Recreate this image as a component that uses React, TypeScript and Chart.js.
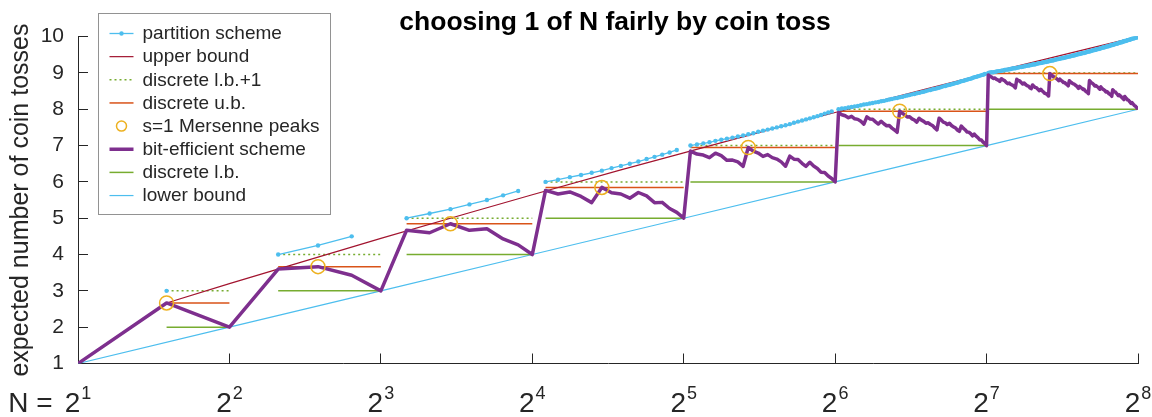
import { useEffect, useRef } from "react";
import { Chart, registerables } from "chart.js";

Chart.register(...registerables);

const FONT = '"Liberation Sans", Arial, Helvetica, sans-serif';
const INK = "#262626";

const chartTitle = "choosing 1 of N fairly by coin toss";
const yAxisTitle = "expected number of coin tosses";
const xTickBase = "2";
const xTickExponents = [1, 2, 3, 4, 5, 6, 7, 8];

// First and last N of each octave 2^k < N <= 2^(k+1)
const octaveStartN = [3, 5, 9, 17, 33, 65, 129];
const octaveEndN = [4, 8, 16, 32, 64, 128, 256];

// Bit-efficient scheme: expected tosses for every N, N = 2 .. 256
const bitEfficientOctave0 = [1];
const bitEfficientOctave1 = [2.667, 2];
const bitEfficientOctave2 = [3.6, 3.667, 3.429, 3];
const bitEfficientOctave3 = [4.667, 4.6, 4.848, 4.667, 4.708, 4.429, 4.267, 4];
const bitEfficientOctave4 = [
  5.765, 5.667, 5.723, 5.6, 5.429, 5.848, 5.702, 5.667,
  5.551, 5.708, 5.614, 5.429, 5.436, 5.267, 5.161, 5,
];
const bitEfficientOctave5 = [
  6.848, 6.765, 6.738, 6.667, 6.79, 6.723, 6.593, 6.6,
  6.55, 6.429, 6.946, 6.848, 6.794, 6.702, 6.751, 6.667,
  6.628, 6.551, 6.431, 6.708, 6.626, 6.614, 6.512, 6.429,
  6.538, 6.436, 6.37, 6.267, 6.259, 6.161, 6.095, 6,
];
const bitEfficientOctave6 = [
  7.908, 7.848, 7.82, 7.765, 7.806, 7.738, 7.721, 7.667,
  7.589, 7.79, 7.734, 7.723, 7.652, 7.593, 7.669, 7.6,
  7.547, 7.55, 7.48, 7.429, 7.365, 7.946, 7.887, 7.848,
  7.788, 7.794, 7.736, 7.702, 7.646, 7.751, 7.699, 7.667,
  7.615, 7.628, 7.58, 7.551, 7.483, 7.431, 7.753, 7.708,
  7.644, 7.626, 7.578, 7.614, 7.553, 7.512, 7.489, 7.429,
  7.392, 7.538, 7.481, 7.436, 7.374, 7.37, 7.327, 7.267,
  7.317, 7.259, 7.219, 7.161, 7.151, 7.095, 7.055, 7,
];
const bitEfficientOctave7 = [
  8.946, 8.908, 8.885, 8.848, 8.859, 8.82, 8.801, 8.765,
  8.84, 8.806, 8.787, 8.738, 8.705, 8.721, 8.683, 8.667,
  8.636, 8.589, 8.825, 8.79, 8.778, 8.734, 8.696, 8.723,
  8.681, 8.652, 8.638, 8.593, 8.567, 8.669, 8.626, 8.6,
  8.586, 8.547, 8.514, 8.55, 8.509, 8.48, 8.44, 8.429,
  8.406, 8.365, 8.982, 8.946, 8.924, 8.887, 8.885, 8.848,
  8.823, 8.788, 8.829, 8.794, 8.771, 8.736, 8.736, 8.702,
  8.68, 8.646, 8.785, 8.751, 8.73, 8.699, 8.698, 8.667,
  8.646, 8.615, 8.574, 8.628, 8.597, 8.58, 8.545, 8.551,
  8.511, 8.483, 8.465, 8.431, 8.79, 8.753, 8.726, 8.708,
  8.681, 8.644, 8.656, 8.626, 8.613, 8.578, 8.551, 8.614,
  8.577, 8.553, 8.536, 8.512, 8.476, 8.489, 8.464, 8.429,
  8.415, 8.392, 8.356, 8.538, 8.504, 8.481, 8.469, 8.436,
  8.408, 8.374, 8.396, 8.37, 8.336, 8.327, 8.293, 8.267,
  8.35, 8.317, 8.292, 8.259, 8.252, 8.219, 8.194, 8.161,
  8.183, 8.151, 8.127, 8.095, 8.087, 8.055, 8.031, 8,
];

// Partition scheme: N = 2^k + 1 .. 2^(k+1) - 1 in each octave
const partitionOctave1 = [3];
const partitionOctave2 = [4, 4.25, 4.5];
const partitionOctave3 = [5, 5.13, 5.25, 5.38, 5.5, 5.63, 5.75];
const partitionOctave4 = [
  6, 6.06, 6.13, 6.19, 6.25, 6.31, 6.38, 6.44, 6.5, 6.56, 6.63, 6.69, 6.75, 6.81, 6.88,
];
const partitionOctave5 = [
  7, 7.03, 7.06, 7.09, 7.13, 7.16, 7.19, 7.22, 7.25, 7.28, 7.31, 7.34, 7.38, 7.41, 7.44, 7.47,
  7.5, 7.53, 7.56, 7.59, 7.63, 7.66, 7.69, 7.72, 7.75, 7.78, 7.81, 7.84, 7.88, 7.91, 7.94,
];
const partitionOctave6 = [
  8, 8.02, 8.03, 8.05, 8.06, 8.08, 8.09, 8.11, 8.13, 8.14, 8.16, 8.17, 8.19, 8.2, 8.22, 8.23,
  8.25, 8.27, 8.28, 8.3, 8.31, 8.33, 8.34, 8.36, 8.38, 8.39, 8.41, 8.42, 8.44, 8.45, 8.47, 8.48,
  8.5, 8.52, 8.53, 8.55, 8.56, 8.58, 8.59, 8.61, 8.63, 8.64, 8.66, 8.67, 8.69, 8.7, 8.72, 8.73,
  8.75, 8.77, 8.78, 8.8, 8.81, 8.83, 8.84, 8.86, 8.88, 8.89, 8.91, 8.92, 8.94, 8.95, 8.97,
];
const partitionOctave7 = [
  9, 9.01, 9.02, 9.02, 9.03, 9.04, 9.05, 9.05, 9.06, 9.07, 9.08, 9.09, 9.09, 9.1, 9.11, 9.12,
  9.13, 9.13, 9.14, 9.15, 9.16, 9.16, 9.17, 9.18, 9.19, 9.2, 9.2, 9.21, 9.22, 9.23, 9.23, 9.24,
  9.25, 9.26, 9.27, 9.27, 9.28, 9.29, 9.3, 9.3, 9.31, 9.32, 9.33, 9.34, 9.34, 9.35, 9.36, 9.37,
  9.38, 9.38, 9.39, 9.4, 9.41, 9.41, 9.42, 9.43, 9.44, 9.45, 9.45, 9.46, 9.47, 9.48, 9.48, 9.49,
  9.5, 9.51, 9.52, 9.52, 9.53, 9.54, 9.55, 9.55, 9.56, 9.57, 9.58, 9.59, 9.59, 9.6, 9.61, 9.62,
  9.63, 9.63, 9.64, 9.65, 9.66, 9.66, 9.67, 9.68, 9.69, 9.7, 9.7, 9.71, 9.72, 9.73, 9.73, 9.74,
  9.75, 9.76, 9.77, 9.77, 9.78, 9.79, 9.8, 9.8, 9.81, 9.82, 9.83, 9.84, 9.84, 9.85, 9.86, 9.87,
  9.88, 9.88, 9.89, 9.9, 9.91, 9.91, 9.92, 9.93, 9.94, 9.95, 9.95, 9.96, 9.97, 9.98, 9.98,
];

// Smooth bounds
const upperBoundN = [3, 4, 6, 8, 12, 16, 24, 32, 48, 64, 96, 128, 192, 256];
const upperBoundTosses = [2.667, 3.2, 3.93, 4.445, 5.15, 5.645, 6.33, 6.8, 7.46, 7.91, 8.54, 8.98, 9.58, 10];
const lowerBoundN = [2, 4, 8, 16, 32, 64, 128, 256];
const lowerBoundTosses = [1, 2, 3, 4, 5, 6, 7, 8];

// Per-octave discrete levels
const discreteLowerBound = [2, 3, 4, 5, 6, 7, 8];
const discreteLowerBoundPlus1 = [3, 4, 5, 6, 7, 8, 9];
const discreteUpperBound = [2.667, 3.667, 4.848, 5.848, 6.946, 7.946, 8.982];

// s=1 Mersenne peaks
const peakN = [3, 6, 11, 22, 43, 86, 171];
const peakTosses = [2.667, 3.667, 4.848, 5.848, 6.946, 7.946, 8.982];

type Pt = { x: number; y: number | null };

const bitEfficientTosses = [
  ...bitEfficientOctave0,
  ...bitEfficientOctave1,
  ...bitEfficientOctave2,
  ...bitEfficientOctave3,
  ...bitEfficientOctave4,
  ...bitEfficientOctave5,
  ...bitEfficientOctave6,
  ...bitEfficientOctave7,
];
const partitionOctaves = [
  partitionOctave1,
  partitionOctave2,
  partitionOctave3,
  partitionOctave4,
  partitionOctave5,
  partitionOctave6,
  partitionOctave7,
];

const zip = (xs: number[], ys: number[]): Pt[] => xs.map((x, i) => ({ x, y: ys[i] }));

const octaveSegments = (levels: number[]): Pt[] =>
  levels.flatMap((y, k) => [
    { x: octaveStartN[k], y },
    { x: octaveEndN[k], y },
    { x: octaveEndN[k], y: null },
  ]);

const partitionPoints: Pt[] = partitionOctaves.flatMap((vals, k) => [
  ...vals.map((y, i) => ({ x: octaveStartN[k] + i, y })),
  { x: octaveEndN[k], y: null },
]);

const bitEfficientPoints: Pt[] = bitEfficientTosses.map((y, i) => ({ x: i + 2, y }));

const COLORS = {
  partition: "#4DBEEE",
  upper: "#A2142F",
  green: "#77AC30",
  orange: "#D95319",
  yellow: "#EDB120",
  purple: "#7E2F8E",
  lower: "#4DBEEE",
};

const lineBase = { pointRadius: 0, tension: 0, fill: false };

const datasets: any[] = [
  {
    ...lineBase,
    label: "partition scheme",
    data: partitionPoints,
    borderColor: COLORS.partition,
    borderWidth: 1.3,
    pointRadius: 2.2,
    pointBackgroundColor: COLORS.partition,
    pointBorderWidth: 0,
    order: 3,
  },
  {
    ...lineBase,
    label: "upper bound",
    data: zip(upperBoundN, upperBoundTosses),
    borderColor: COLORS.upper,
    borderWidth: 1.2,
    order: 4,
  },
  {
    ...lineBase,
    label: "discrete l.b.+1",
    data: octaveSegments(discreteLowerBoundPlus1),
    borderColor: COLORS.green,
    borderWidth: 1.5,
    borderDash: [2, 3],
    order: 6,
  },
  {
    ...lineBase,
    label: "discrete u.b.",
    data: octaveSegments(discreteUpperBound),
    borderColor: COLORS.orange,
    borderWidth: 1.5,
    order: 5,
  },
  {
    label: "s=1 Mersenne peaks",
    data: zip(peakN, peakTosses),
    showLine: false,
    pointRadius: 7,
    pointBorderWidth: 1.5,
    pointBorderColor: COLORS.yellow,
    pointBackgroundColor: "rgba(0,0,0,0)",
    borderColor: COLORS.yellow,
    order: 1,
  },
  {
    ...lineBase,
    label: "bit-efficient scheme",
    data: bitEfficientPoints,
    borderColor: COLORS.purple,
    borderWidth: 3.5,
    borderJoinStyle: "round",
    order: 2,
  },
  {
    ...lineBase,
    label: "discrete l.b.",
    data: octaveSegments(discreteLowerBound),
    borderColor: COLORS.green,
    borderWidth: 1.5,
    order: 7,
  },
  {
    ...lineBase,
    label: "lower bound",
    data: zip(lowerBoundN, lowerBoundTosses),
    borderColor: COLORS.lower,
    borderWidth: 1.2,
    order: 8,
  },
];

// Legend drawn as a framed box inside the plot
const legendBoxPlugin = {
  id: "legendBox",
  afterDraw(chart: any) {
    const { ctx } = chart;
    const left = 98;
    const top = 13.5;
    const width = 232;
    const height = 201;
    ctx.save();
    ctx.fillStyle = "#ffffff";
    ctx.fillRect(left, top, width, height);
    ctx.strokeStyle = "#929292";
    ctx.lineWidth = 1;
    ctx.strokeRect(left + 0.5, top, width, height);
    const rowStep = 23.15;
    const x0 = 109.5;
    const x1 = 133.5;
    const cx = 121.5;
    chart.data.datasets.forEach((ds: any, i: number) => {
      const cy = 33.5 + i * rowStep;
      if (ds.showLine !== false) {
        ctx.beginPath();
        ctx.setLineDash(ds.borderDash || []);
        ctx.lineWidth = ds.borderWidth;
        ctx.strokeStyle = ds.borderColor;
        ctx.moveTo(x0, cy);
        ctx.lineTo(x1, cy);
        ctx.stroke();
        ctx.setLineDash([]);
        if (ds.pointRadius > 0) {
          ctx.beginPath();
          ctx.arc(cx, cy, ds.pointRadius, 0, Math.PI * 2);
          ctx.fillStyle = ds.pointBackgroundColor;
          ctx.fill();
        }
      } else {
        ctx.beginPath();
        ctx.arc(cx, cy, 5, 0, Math.PI * 2);
        ctx.lineWidth = ds.pointBorderWidth;
        ctx.strokeStyle = ds.pointBorderColor;
        ctx.stroke();
      }
      ctx.fillStyle = INK;
      ctx.font = `19px ${FONT}`;
      ctx.textAlign = "left";
      ctx.textBaseline = "middle";
      ctx.fillText(ds.label, 142.5, cy + 0.5);
    });
    ctx.restore();
  },
};

// Power-of-two tick labels, the "N =" prefix and the chart title
const powerLabelsPlugin = {
  id: "powerLabels",
  afterDraw(chart: any) {
    const { ctx, chartArea } = chart;
    const xScale = chart.scales.x;
    const baseY = 411.5;
    ctx.save();
    ctx.fillStyle = INK;
    ctx.textBaseline = "alphabetic";
    xTickExponents.forEach((exp, i) => {
      const px = xScale.getPixelForValue(2 ** exp);
      const expText = String(exp);
      ctx.font = `28px ${FONT}`;
      const baseW = ctx.measureText(xTickBase).width;
      ctx.font = `18px ${FONT}`;
      const expW = ctx.measureText(expText).width;
      const left = px - (baseW + 1 + expW) / 2;
      ctx.font = `28px ${FONT}`;
      ctx.textAlign = "left";
      ctx.fillText(xTickBase, left, baseY);
      if (i === 0) {
        ctx.textAlign = "right";
        ctx.fillText("N =", left - 12, baseY);
        ctx.textAlign = "left";
      }
      ctx.font = `18px ${FONT}`;
      ctx.fillText(expText, left + baseW + 1, baseY - 13);
    });
    ctx.fillStyle = "#000000";
    ctx.font = `bold 26.5px ${FONT}`;
    ctx.textAlign = "center";
    ctx.fillText(chartTitle, (chartArea.left + chartArea.right) / 2 + 7, 29.5);
    ctx.restore();
  },
};

const axisGrid = {
  drawOnChartArea: false,
  drawTicks: true,
  tickLength: -10,
  color: INK,
  lineWidth: 1,
};

export default function App() {
  const canvasRef = useRef<HTMLCanvasElement>(null);

  useEffect(() => {
    const canvas = canvasRef.current;
    if (!canvas) return;
    const chart = new Chart(canvas, {
      type: "line",
      data: { datasets },
      options: {
        responsive: false,
        animation: false,
        events: [],
        layout: { padding: { top: 12.5, right: 14, bottom: 0, left: 0 } },
        plugins: {
          legend: { display: false },
          tooltip: { enabled: false },
          title: { display: false },
        },
        scales: {
          x: {
            type: "logarithmic",
            min: 2,
            max: 256,
            afterBuildTicks: (scale: any) => {
              scale.ticks = xTickExponents.map((e) => ({ value: 2 ** e }));
            },
            afterFit: (scale: any) => {
              scale.height = 53.5;
            },
            ticks: { display: false },
            grid: axisGrid,
            border: { display: true, color: INK, width: 1 },
          },
          y: {
            type: "linear",
            min: 1,
            max: 10,
            afterFit: (scale: any) => {
              scale.width = 78;
            },
            ticks: {
              stepSize: 1,
              color: INK,
              padding: 24,
              font: { family: FONT, size: 21 },
            },
            grid: axisGrid,
            border: { display: true, color: INK, width: 1 },
            title: {
              display: true,
              text: yAxisTitle,
              color: INK,
              font: { family: FONT, size: 25 },
              padding: { top: 6, bottom: 0 },
            },
          },
        },
      } as any,
      plugins: [legendBoxPlugin, powerLabelsPlugin],
    });
    return () => chart.destroy();
  }, []);

  return (
    <div
      style={{
        position: "fixed",
        left: 0,
        top: 0,
        width: 1152,
        height: 417,
        background: "#ffffff",
      }}
    >
      <canvas
        ref={canvasRef}
        width={1152}
        height={417}
        style={{ display: "block", width: 1152, height: 417 }}
      />
    </div>
  );
}
